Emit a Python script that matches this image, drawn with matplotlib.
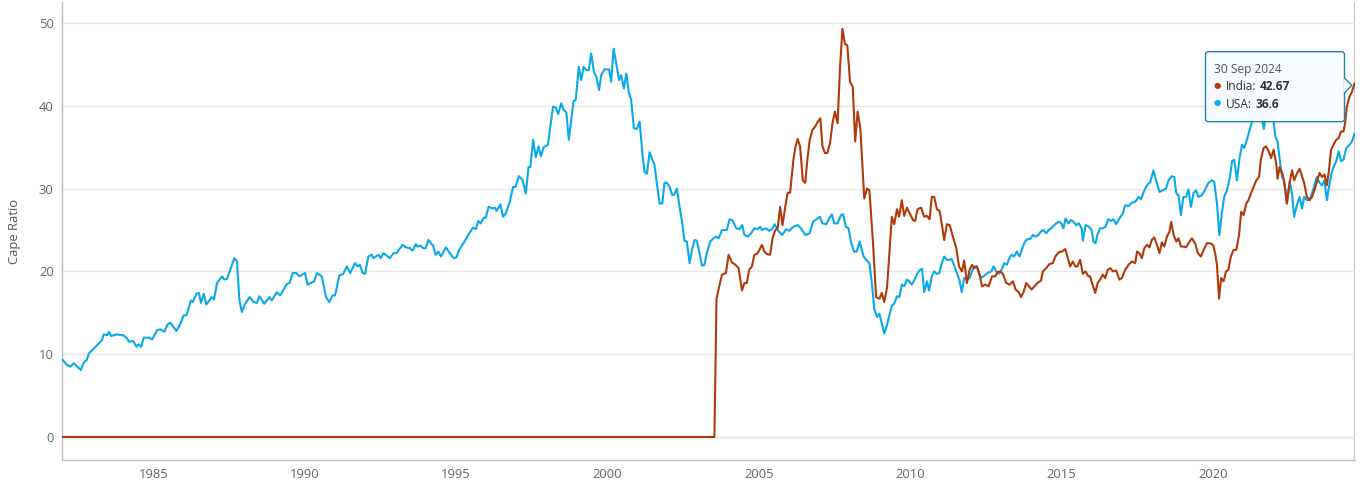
import matplotlib
matplotlib.use("Agg")
import matplotlib.pyplot as plt
from matplotlib.patches import FancyBboxPatch, Polygon
from matplotlib.lines import Line2D
from matplotlib.text import Annotation
from matplotlib.transforms import IdentityTransform

# Shiller CAPE ratio (decimal years)
usa_points = [
    (1982.00, 9.3), (1982.15, 8.7), (1982.26, 8.5), (1982.37, 8.9), (1982.60, 8.1), (1982.70, 9.0), (1982.80, 9.3), (1982.87, 10.1),
    (1983.03, 10.7), (1983.20, 11.3), (1983.30, 11.7), (1983.36, 12.4), (1983.47, 12.3), (1983.53, 12.7), (1983.60, 12.2), (1983.80, 12.4), (1983.90, 12.3),
    (1984.00, 12.3), (1984.13, 11.9), (1984.19, 11.5), (1984.33, 11.6), (1984.44, 10.9), (1984.50, 11.2), (1984.60, 10.9), (1984.68, 12.0), (1984.85, 12.0), (1984.96, 11.8),
    (1985.12, 12.9), (1985.23, 13.0), (1985.36, 12.7), (1985.47, 13.6), (1985.56, 13.8), (1985.76, 12.8), (1985.87, 13.5),
    (1986.00, 14.7), (1986.09, 14.7), (1986.24, 16.5), (1986.30, 16.3), (1986.42, 17.3), (1986.50, 17.4), (1986.57, 16.2), (1986.66, 17.3), (1986.75, 16.0), (1986.93, 16.9),
    (1987.00, 16.6), (1987.10, 18.6), (1987.27, 19.4), (1987.34, 19.0), (1987.43, 19.1), (1987.54, 20.2), (1987.67, 21.6), (1987.76, 21.2), (1987.84, 16.5), (1987.92, 15.1),
    (1988.03, 16.1), (1988.18, 16.9), (1988.31, 16.3), (1988.42, 16.2), (1988.50, 17.0), (1988.66, 16.1), (1988.84, 16.9), (1988.91, 16.5),
    (1989.08, 17.5), (1989.19, 17.1), (1989.41, 18.5), (1989.50, 18.6), (1989.60, 19.8), (1989.72, 19.8), (1989.82, 19.4),
    (1990.01, 19.8), (1990.09, 18.4), (1990.20, 18.6), (1990.31, 18.8), (1990.40, 19.8), (1990.56, 19.4), (1990.70, 16.9), (1990.81, 16.3), (1990.92, 17.1),
    (1991.00, 17.1), (1991.14, 19.5), (1991.27, 19.7), (1991.39, 20.6), (1991.50, 19.8), (1991.66, 21.0), (1991.74, 20.6), (1991.82, 20.8), (1991.91, 19.8), (1991.99, 19.7),
    (1992.10, 21.8), (1992.21, 22.0), (1992.27, 21.6), (1992.43, 22.0), (1992.51, 21.6), (1992.60, 22.2), (1992.81, 21.6), (1992.93, 22.2),
    (1993.03, 22.2), (1993.23, 23.2), (1993.34, 22.9), (1993.47, 22.8), (1993.56, 22.5), (1993.67, 23.3), (1993.71, 23.0), (1993.82, 23.1), (1993.91, 22.8),
    (1994.00, 22.8), (1994.08, 23.8), (1994.19, 23.3), (1994.24, 23.1), (1994.32, 22.0), (1994.41, 22.4), (1994.50, 21.8), (1994.66, 22.9), (1994.77, 22.3), (1994.92, 21.6),
    (1995.01, 21.7), (1995.10, 22.6), (1995.29, 23.7), (1995.43, 24.6), (1995.56, 25.3), (1995.65, 25.1), (1995.73, 26.1), (1995.81, 25.8), (1995.91, 26.5), (1995.98, 26.5),
    (1996.07, 27.8), (1996.20, 27.6), (1996.28, 27.7), (1996.33, 27.3), (1996.46, 28.1), (1996.55, 26.6), (1996.64, 27.0), (1996.77, 28.4), (1996.88, 30.2), (1996.96, 30.2),
    (1997.07, 31.5), (1997.19, 31.1), (1997.30, 29.4), (1997.39, 32.6), (1997.45, 32.6), (1997.54, 35.9), (1997.63, 33.8), (1997.72, 35.1), (1997.80, 33.9), (1997.89, 35.0),
    (1998.03, 35.3), (1998.20, 39.9), (1998.29, 39.8), (1998.37, 39.0), (1998.47, 40.3), (1998.55, 39.5), (1998.64, 39.2), (1998.72, 35.9), (1998.80, 38.3), (1998.88, 40.6), (1998.95, 40.7),
    (1999.05, 44.7), (1999.13, 43.1), (1999.21, 44.7), (1999.30, 44.3), (1999.38, 44.3), (1999.46, 46.3), (1999.55, 44.1), (1999.63, 43.5), (1999.72, 41.9), (1999.79, 43.7), (1999.90, 44.4),
    (2000.05, 44.4), (2000.12, 42.9), (2000.20, 46.9), (2000.29, 45.1), (2000.38, 43.1), (2000.45, 43.7), (2000.54, 42.1), (2000.62, 43.9), (2000.70, 41.7), (2000.78, 40.7), (2000.87, 37.3), (2000.97, 37.2),
    (2001.06, 38.1), (2001.15, 34.3), (2001.22, 32.0), (2001.30, 31.8), (2001.39, 34.4), (2001.48, 33.5), (2001.55, 32.9), (2001.63, 30.6), (2001.72, 28.2), (2001.81, 28.2), (2001.88, 30.7), (2001.96, 30.7),
    (2002.05, 30.2), (2002.14, 29.2), (2002.21, 29.3), (2002.29, 30.0), (2002.38, 27.8), (2002.47, 25.8), (2002.54, 23.7), (2002.62, 23.6), (2002.71, 21.0), (2002.80, 22.8), (2002.88, 23.8), (2002.95, 23.7),
    (2003.04, 22.2), (2003.12, 20.7), (2003.20, 20.8), (2003.28, 22.2), (2003.39, 23.6), (2003.50, 24.0), (2003.59, 24.2), (2003.67, 24.0), (2003.78, 25.0), (2003.94, 25.0),
    (2004.03, 26.3), (2004.14, 26.1), (2004.25, 25.2), (2004.36, 25.1), (2004.45, 25.6), (2004.52, 24.4), (2004.63, 24.2), (2004.74, 24.6), (2004.85, 25.2), (2004.96, 25.1),
    (2005.04, 25.4), (2005.10, 25.0), (2005.23, 25.2), (2005.34, 24.9), (2005.43, 25.1), (2005.52, 25.7), (2005.62, 25.0), (2005.77, 24.4), (2005.90, 25.1),
    (2006.00, 24.9), (2006.14, 25.4), (2006.28, 25.6), (2006.39, 25.2), (2006.53, 24.4), (2006.67, 24.6), (2006.79, 26.0), (2006.94, 26.4),
    (2007.01, 26.6), (2007.10, 25.8), (2007.23, 25.7), (2007.32, 26.4), (2007.41, 26.9), (2007.49, 25.8), (2007.60, 25.8), (2007.71, 26.8), (2007.78, 26.9), (2007.87, 25.4), (2007.96, 25.2),
    (2008.04, 23.6), (2008.14, 22.4), (2008.23, 22.4), (2008.33, 23.6), (2008.46, 21.8), (2008.57, 21.3), (2008.65, 21.0), (2008.73, 18.6), (2008.81, 15.5), (2008.90, 14.5), (2008.98, 14.9),
    (2009.06, 13.7), (2009.14, 12.5), (2009.23, 13.5), (2009.31, 14.7), (2009.40, 15.9), (2009.47, 16.1), (2009.56, 17.0), (2009.64, 16.9), (2009.72, 18.4), (2009.80, 18.2), (2009.89, 19.0), (2009.97, 18.8),
    (2010.05, 18.4), (2010.14, 19.0), (2010.24, 19.8), (2010.33, 20.2), (2010.39, 20.3), (2010.46, 17.5), (2010.55, 18.8), (2010.62, 17.7), (2010.71, 19.4), (2010.79, 20.0), (2010.88, 19.7), (2010.96, 19.8),
    (2011.04, 21.0), (2011.12, 21.8), (2011.21, 21.4), (2011.30, 21.4), (2011.37, 21.5), (2011.46, 20.6), (2011.54, 19.8), (2011.62, 19.0), (2011.70, 17.5), (2011.78, 19.2), (2011.87, 19.0), (2011.96, 19.2),
    (2012.04, 20.0), (2012.11, 20.6), (2012.20, 20.6), (2012.27, 19.8), (2012.33, 19.2), (2012.42, 19.4), (2012.51, 19.7), (2012.60, 19.9), (2012.68, 20.0), (2012.75, 20.6), (2012.84, 20.0), (2012.93, 19.7),
    (2013.03, 20.3), (2013.10, 21.0), (2013.19, 20.8), (2013.26, 21.5), (2013.34, 22.0), (2013.43, 21.8), (2013.52, 22.4), (2013.61, 21.8), (2013.70, 22.8), (2013.79, 23.6), (2013.87, 23.9), (2013.96, 23.9),
    (2014.05, 24.4), (2014.14, 24.2), (2014.23, 24.4), (2014.31, 24.8), (2014.40, 25.0), (2014.49, 24.6), (2014.57, 25.0), (2014.65, 25.2), (2014.73, 25.5), (2014.82, 25.8), (2014.91, 26.0), (2014.99, 25.8),
    (2015.06, 25.2), (2015.13, 26.4), (2015.22, 25.8), (2015.31, 26.2), (2015.39, 26.0), (2015.48, 25.6), (2015.57, 25.8), (2015.66, 25.2), (2015.70, 23.7), (2015.79, 25.6), (2015.90, 25.4), (2015.99, 25.0),
    (2016.05, 23.6), (2016.12, 23.4), (2016.18, 24.4), (2016.27, 25.2), (2016.36, 25.2), (2016.45, 25.4), (2016.54, 26.3), (2016.63, 26.1), (2016.71, 26.3), (2016.80, 25.7), (2016.91, 26.4),
    (2017.02, 27.0), (2017.10, 28.0), (2017.21, 27.9), (2017.32, 28.3), (2017.43, 28.4), (2017.54, 29.0), (2017.62, 28.7), (2017.71, 29.6), (2017.82, 30.4), (2017.93, 30.8),
    (2018.03, 32.2), (2018.12, 31.0), (2018.23, 29.6), (2018.34, 29.8), (2018.45, 30.0), (2018.53, 31.0), (2018.64, 31.5), (2018.72, 31.4), (2018.79, 29.4), (2018.86, 29.2), (2018.94, 26.8),
    (2019.02, 29.0), (2019.11, 29.0), (2019.19, 29.9), (2019.27, 27.8), (2019.36, 29.5), (2019.44, 29.8), (2019.52, 29.0), (2019.63, 29.2), (2019.74, 29.9), (2019.85, 30.7), (2019.96, 31.0),
    (2020.04, 30.8), (2020.13, 28.2), (2020.21, 24.4), (2020.29, 27.0), (2020.37, 29.0), (2020.46, 29.8), (2020.55, 31.2), (2020.63, 33.3), (2020.70, 33.5), (2020.79, 31.0), (2020.88, 33.8), (2020.96, 35.3),
    (2021.03, 34.9), (2021.12, 35.9), (2021.21, 37.1), (2021.29, 38.1), (2021.38, 38.9), (2021.47, 39.4), (2021.55, 39.8), (2021.68, 37.2), (2021.77, 39.6), (2021.86, 40.2),
    (2022.00, 38.1), (2022.06, 36.3), (2022.13, 35.7), (2022.22, 33.0), (2022.28, 31.4), (2022.35, 31.0), (2022.44, 28.2), (2022.53, 30.8), (2022.61, 29.4), (2022.68, 26.6), (2022.77, 28.0), (2022.86, 29.0), (2022.94, 27.6),
    (2023.01, 29.0), (2023.10, 28.6), (2023.19, 28.7), (2023.27, 29.4), (2023.35, 30.4), (2023.43, 31.4), (2023.52, 30.7), (2023.60, 30.4), (2023.68, 31.0), (2023.76, 28.6), (2023.83, 30.2), (2023.91, 31.8), (2023.98, 32.6),
    (2024.07, 33.3), (2024.15, 34.5), (2024.23, 33.3), (2024.31, 33.5), (2024.40, 34.9), (2024.51, 35.3), (2024.59, 35.7), (2024.67, 36.6),
]

india_points = [
    (1982.00, 0.0), (2003.53, 0.0),
    (2003.60, 16.7), (2003.69, 18.2), (2003.78, 19.6), (2003.91, 19.8),
    (2004.00, 22.0), (2004.11, 21.1), (2004.22, 20.8), (2004.33, 20.4), (2004.44, 17.7), (2004.52, 18.6), (2004.60, 18.6), (2004.68, 20.2), (2004.77, 20.6), (2004.85, 22.0), (2004.96, 22.2),
    (2005.10, 23.2), (2005.18, 22.4), (2005.26, 22.1), (2005.37, 22.0), (2005.45, 24.0), (2005.54, 25.0), (2005.62, 25.2), (2005.70, 27.8), (2005.78, 25.6), (2005.87, 27.8), (2005.95, 29.5),
    (2006.03, 29.5), (2006.14, 33.5), (2006.20, 34.9), (2006.28, 36.0), (2006.36, 35.1), (2006.45, 31.0), (2006.53, 30.7), (2006.60, 33.5), (2006.68, 35.9), (2006.77, 37.1), (2006.86, 37.5), (2006.95, 38.1),
    (2007.03, 38.5), (2007.10, 35.1), (2007.18, 34.3), (2007.26, 34.3), (2007.35, 35.5), (2007.43, 37.9), (2007.51, 39.3), (2007.60, 37.9), (2007.68, 44.7), (2007.76, 49.3), (2007.84, 47.5), (2007.92, 47.3),
    (2008.01, 42.9), (2008.10, 42.3), (2008.18, 35.7), (2008.26, 39.3), (2008.35, 37.3), (2008.48, 28.8), (2008.57, 30.0), (2008.65, 29.8), (2008.77, 23.4), (2008.87, 16.9), (2008.98, 16.7),
    (2009.06, 17.4), (2009.14, 16.3), (2009.23, 18.0), (2009.31, 22.2), (2009.39, 26.6), (2009.47, 25.7), (2009.56, 27.5), (2009.63, 26.6), (2009.72, 28.6), (2009.80, 26.7), (2009.89, 27.7), (2009.97, 27.1),
    (2010.09, 26.2), (2010.16, 26.1), (2010.24, 27.5), (2010.36, 27.7), (2010.46, 26.6), (2010.55, 26.7), (2010.64, 26.3), (2010.71, 29.0), (2010.79, 29.0), (2010.88, 27.5), (2010.97, 27.3),
    (2011.05, 25.5), (2011.12, 23.8), (2011.21, 25.7), (2011.30, 25.6), (2011.41, 24.2), (2011.52, 22.8), (2011.61, 20.6), (2011.71, 20.0), (2011.78, 21.3), (2011.87, 18.6), (2011.96, 20.2),
    (2012.04, 20.8), (2012.11, 20.4), (2012.20, 20.6), (2012.29, 19.6), (2012.37, 18.2), (2012.48, 18.4), (2012.59, 18.2), (2012.70, 19.4), (2012.81, 19.4), (2012.88, 19.9), (2012.97, 20.0),
    (2013.06, 19.7), (2013.17, 18.6), (2013.28, 18.4), (2013.39, 18.8), (2013.48, 17.8), (2013.58, 17.5), (2013.66, 16.9), (2013.74, 17.5), (2013.83, 18.6), (2013.92, 18.2),
    (2014.01, 17.8), (2014.10, 18.2), (2014.20, 18.6), (2014.32, 18.9), (2014.38, 20.0), (2014.49, 20.4), (2014.60, 20.9), (2014.71, 21.0), (2014.79, 21.8), (2014.90, 22.3),
    (2015.01, 22.4), (2015.12, 22.7), (2015.19, 21.8), (2015.28, 20.6), (2015.37, 21.2), (2015.45, 20.6), (2015.52, 20.6), (2015.61, 21.4), (2015.70, 19.7), (2015.79, 20.0), (2015.88, 19.4), (2015.94, 19.4),
    (2016.02, 18.4), (2016.11, 17.4), (2016.19, 18.6), (2016.27, 19.0), (2016.36, 19.6), (2016.44, 19.2), (2016.52, 20.2), (2016.61, 20.4), (2016.69, 20.0), (2016.80, 20.1), (2016.91, 19.0), (2016.99, 19.2),
    (2017.10, 20.2), (2017.21, 20.8), (2017.32, 21.2), (2017.43, 21.0), (2017.49, 22.4), (2017.57, 22.2), (2017.65, 21.6), (2017.73, 22.8), (2017.82, 23.2), (2017.90, 22.9), (2017.98, 23.8),
    (2018.06, 24.1), (2018.15, 23.2), (2018.23, 22.2), (2018.31, 23.5), (2018.39, 23.0), (2018.48, 24.2), (2018.56, 24.8), (2018.62, 26.0), (2018.70, 24.4), (2018.79, 23.6), (2018.86, 24.0), (2018.94, 23.0),
    (2019.02, 23.0), (2019.11, 22.9), (2019.19, 23.4), (2019.30, 24.0), (2019.41, 23.4), (2019.50, 22.2), (2019.60, 21.8), (2019.69, 22.6), (2019.80, 23.4), (2019.91, 23.4),
    (2020.00, 23.2), (2020.07, 22.2), (2020.13, 20.8), (2020.20, 16.7), (2020.27, 19.2), (2020.35, 18.8), (2020.43, 20.0), (2020.51, 20.2), (2020.59, 21.8), (2020.68, 22.6), (2020.77, 22.6), (2020.86, 24.4), (2020.93, 27.2),
    (2021.01, 26.8), (2021.10, 28.2), (2021.17, 28.6), (2021.25, 29.4), (2021.34, 30.2), (2021.43, 31.0), (2021.52, 31.4), (2021.58, 33.5), (2021.67, 34.9), (2021.75, 35.1), (2021.84, 34.5), (2021.92, 33.7),
    (2022.00, 34.7), (2022.09, 33.0), (2022.13, 31.2), (2022.20, 32.6), (2022.31, 31.6), (2022.39, 29.8), (2022.44, 28.2), (2022.53, 30.7), (2022.61, 32.2), (2022.68, 31.0), (2022.77, 31.8), (2022.86, 32.4), (2022.94, 31.5),
    (2023.01, 30.7), (2023.10, 29.0), (2023.19, 28.6), (2023.27, 29.0), (2023.35, 29.8), (2023.43, 30.8), (2023.52, 31.9), (2023.60, 31.4), (2023.68, 31.7), (2023.76, 30.4), (2023.83, 32.2), (2023.90, 34.7), (2023.98, 35.3),
    (2024.07, 35.9), (2024.15, 36.1), (2024.23, 36.9), (2024.31, 36.9), (2024.37, 38.1), (2024.42, 39.9), (2024.51, 41.1), (2024.59, 41.7), (2024.67, 42.67),
]

usa_years, usa_cape = map(list, zip(*usa_points))
india_years, india_cape = map(list, zip(*india_points))

x_ticks = [1985, 1990, 1995, 2000, 2005, 2010, 2015, 2020]
y_ticks = [0, 10, 20, 30, 40, 50]
tooltip_date = "30 Sep 2024"

usa_color = "#0aa9e9"
india_color = "#b03a0a"
text_color = "#666666"

plt.rcParams['font.family'] = ['Open Sans', 'DejaVu Sans']

W, H = 1362, 492
fig = plt.figure(figsize=(W / 100, H / 100), dpi=100)
ax = fig.add_axes([62 / W, 32 / H, (1355 - 62) / W, (460 - 2) / H])

ax.plot(usa_years, usa_cape, color=usa_color, lw=1.5, zorder=3, solid_joinstyle='round')
ax.plot(india_years, india_cape, color=india_color, lw=1.5, zorder=4, solid_joinstyle='round')

ax.set_xlim(1981.98, 2024.69)
ax.set_ylim(-2.78, 52.54)
ax.set_xticks(x_ticks)
ax.set_yticks(y_ticks)
ax.grid(axis='y', color='#e6e6e6', lw=1, zorder=0)
ax.axhline(0, color='#cccccc', lw=1, zorder=1)
# crosshair at the hovered point
ax.axvline(usa_years[-1], color='#cccccc', lw=1, zorder=1)

for side in ['top', 'right']:
    ax.spines[side].set_visible(False)
for side in ['left', 'bottom']:
    ax.spines[side].set_color('#c0c0c0')
    ax.spines[side].set_linewidth(1)

ax.tick_params(length=0, labelsize=9.4, labelcolor=text_color, pad=6)
ax.set_ylabel("Cape Ratio", fontsize=9.4, color='#555555', labelpad=13)

# tooltip box (pixel coordinates)
ident = IdentityTransform()
bx0, by0, bw, bh = 1205.5, H - 121.7, 139.0, 70.0
box = FancyBboxPatch((bx0, by0), bw, bh, boxstyle="round,pad=0,rounding_size=3",
                     transform=ident, fc='#f5fbfe', ec='#2484a8', lw=1, zorder=5)
fig.add_artist(box)
tip_x, tip_y = 1351.7, H - 85.5
fill = Polygon([(bx0 + bw - 1, tip_y + 7.5), (tip_x, tip_y), (bx0 + bw - 1, tip_y - 7.5)],
               closed=True, transform=ident, fc='#f5fbfe', ec='none', zorder=6)
fig.add_artist(fill)
fig.add_artist(Line2D([bx0 + bw, tip_x, bx0 + bw], [tip_y + 7.5, tip_y, tip_y - 7.5],
                      transform=ident, color='#2484a8', lw=1, zorder=6))

fig.text(1214 / W, 1 - 69 / H, tooltip_date, fontsize=8.6, color='#555555', va='center', zorder=7)
rows = [("India", india_color, india_cape[-1], 86.7), ("USA", usa_color, usa_cape[-1], 104.0)]
for name, color, value, py in rows:
    fig.text(1217.3 / W, 1 - py / H, "\u25CF", fontsize=6, color=color, ha='center', va='center', zorder=7)
    t = fig.text(1226 / W, 1 - py / H, name + ":", fontsize=8.6, color='#333333', va='center', zorder=7)
    ann = Annotation(f"{value:g}", xy=(1, 0.5), xycoords=t, xytext=(2.5, 0), textcoords='offset points',
                     va='center', ha='left', fontsize=8.6, fontweight='bold', color='#333333')
    ann.set_zorder(7)
    fig.add_artist(ann)

fig.savefig("out.png", dpi=100)
